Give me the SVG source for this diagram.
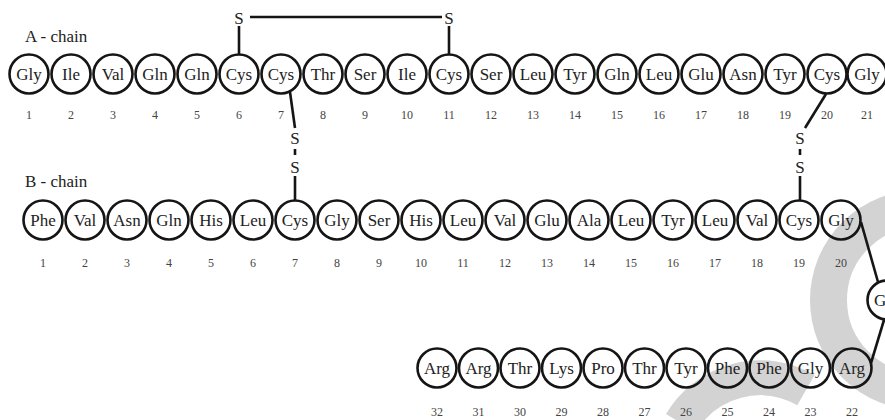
<svg xmlns="http://www.w3.org/2000/svg" width="885" height="420" viewBox="0 0 885 420">
<style>
.res circle{fill:none;stroke:#151515;stroke-width:2.6}
.res text.aa{font-family:"Liberation Serif","Times New Roman",serif;font-size:17px;fill:#222;text-anchor:middle}
.res text.n{font-family:"Liberation Serif","Times New Roman",serif;font-size:12px;fill:#444;text-anchor:middle}
.lbl{font-family:"Liberation Serif","Times New Roman",serif;font-size:17px;fill:#222}
.s{font-family:"Liberation Serif","Times New Roman",serif;font-size:17px;fill:#222;text-anchor:middle}
.bond{stroke:#151515;stroke-width:2.6;fill:none}
.wm{fill:none;stroke:#d3d3d3}
</style>
<rect width="885" height="420" fill="#ffffff"/>
<g id="watermark">
<circle class="wm" cx="920" cy="300" r="91.5" stroke-width="37"/>
<path class="wm" d="M 681 423 A 92 92 0 0 1 806 390" stroke-width="35"/>
</g>
<text class="lbl" x="25" y="42">A - chain</text>
<text class="lbl" x="25" y="187">B - chain</text>
<g id="connectors">
<line class="bond" x1="250" y1="17" x2="442" y2="17"/>
<line class="bond" x1="239" y1="26" x2="239" y2="54"/>
<line class="bond" x1="449" y1="26" x2="449" y2="54"/>
<line class="bond" x1="290" y1="92" x2="295" y2="128"/>
<line class="bond" x1="295" y1="149" x2="295" y2="155"/>
<line class="bond" x1="295" y1="176" x2="295" y2="200"/>
<line class="bond" x1="826" y1="94" x2="805" y2="128"/>
<line class="bond" x1="800" y1="149" x2="800" y2="155"/>
<line class="bond" x1="800" y1="176" x2="800" y2="200"/>
<line class="bond" x1="861" y1="222" x2="878" y2="282"/>
<line class="bond" x1="884" y1="320" x2="871" y2="363"/>
</g>
<g id="sulfur">
<text class="s" x="239" y="24">S</text>
<text class="s" x="449" y="24">S</text>
<text class="s" x="295" y="144">S</text>
<text class="s" x="295" y="173">S</text>
<text class="s" x="800" y="144">S</text>
<text class="s" x="800" y="173">S</text>
</g>
<g id="a-chain" class="res">
<g id="a1"><circle cx="29" cy="74" r="19.5"/><text class="aa" x="29" y="80">Gly</text><text class="n" x="29" y="119">1</text></g>
<g id="a2"><circle cx="71" cy="74" r="19.5"/><text class="aa" x="71" y="80">Ile</text><text class="n" x="71" y="119">2</text></g>
<g id="a3"><circle cx="113" cy="74" r="19.5"/><text class="aa" x="113" y="80">Val</text><text class="n" x="113" y="119">3</text></g>
<g id="a4"><circle cx="155" cy="74" r="19.5"/><text class="aa" x="155" y="80">Gln</text><text class="n" x="155" y="119">4</text></g>
<g id="a5"><circle cx="197" cy="74" r="19.5"/><text class="aa" x="197" y="80">Gln</text><text class="n" x="197" y="119">5</text></g>
<g id="a6"><circle cx="239" cy="74" r="19.5"/><text class="aa" x="239" y="80">Cys</text><text class="n" x="239" y="119">6</text></g>
<g id="a7"><circle cx="281" cy="74" r="19.5"/><text class="aa" x="281" y="80">Cys</text><text class="n" x="281" y="119">7</text></g>
<g id="a8"><circle cx="323" cy="74" r="19.5"/><text class="aa" x="323" y="80">Thr</text><text class="n" x="323" y="119">8</text></g>
<g id="a9"><circle cx="365" cy="74" r="19.5"/><text class="aa" x="365" y="80">Ser</text><text class="n" x="365" y="119">9</text></g>
<g id="a10"><circle cx="407" cy="74" r="19.5"/><text class="aa" x="407" y="80">Ile</text><text class="n" x="407" y="119">10</text></g>
<g id="a11"><circle cx="449" cy="74" r="19.5"/><text class="aa" x="449" y="80">Cys</text><text class="n" x="449" y="119">11</text></g>
<g id="a12"><circle cx="491" cy="74" r="19.5"/><text class="aa" x="491" y="80">Ser</text><text class="n" x="491" y="119">12</text></g>
<g id="a13"><circle cx="533" cy="74" r="19.5"/><text class="aa" x="533" y="80">Leu</text><text class="n" x="533" y="119">13</text></g>
<g id="a14"><circle cx="575" cy="74" r="19.5"/><text class="aa" x="575" y="80">Tyr</text><text class="n" x="575" y="119">14</text></g>
<g id="a15"><circle cx="617" cy="74" r="19.5"/><text class="aa" x="617" y="80">Gln</text><text class="n" x="617" y="119">15</text></g>
<g id="a16"><circle cx="659" cy="74" r="19.5"/><text class="aa" x="659" y="80">Leu</text><text class="n" x="659" y="119">16</text></g>
<g id="a17"><circle cx="701" cy="74" r="19.5"/><text class="aa" x="701" y="80">Glu</text><text class="n" x="701" y="119">17</text></g>
<g id="a18"><circle cx="743" cy="74" r="19.5"/><text class="aa" x="743" y="80">Asn</text><text class="n" x="743" y="119">18</text></g>
<g id="a19"><circle cx="785" cy="74" r="19.5"/><text class="aa" x="785" y="80">Tyr</text><text class="n" x="785" y="119">19</text></g>
<g id="a20"><circle cx="827" cy="74" r="19.5"/><text class="aa" x="827" y="80">Cys</text><text class="n" x="827" y="119">20</text></g>
<g id="a21"><circle cx="867" cy="74" r="19.5"/><text class="aa" x="867" y="80">Gly</text><text class="n" x="867" y="119">21</text></g>
</g>
<g id="b-chain" class="res">
<g id="b1"><circle cx="43" cy="220" r="19.5"/><text class="aa" x="43" y="226">Phe</text><text class="n" x="43" y="267">1</text></g>
<g id="b2"><circle cx="85" cy="220" r="19.5"/><text class="aa" x="85" y="226">Val</text><text class="n" x="85" y="267">2</text></g>
<g id="b3"><circle cx="127" cy="220" r="19.5"/><text class="aa" x="127" y="226">Asn</text><text class="n" x="127" y="267">3</text></g>
<g id="b4"><circle cx="169" cy="220" r="19.5"/><text class="aa" x="169" y="226">Gln</text><text class="n" x="169" y="267">4</text></g>
<g id="b5"><circle cx="211" cy="220" r="19.5"/><text class="aa" x="211" y="226">His</text><text class="n" x="211" y="267">5</text></g>
<g id="b6"><circle cx="253" cy="220" r="19.5"/><text class="aa" x="253" y="226">Leu</text><text class="n" x="253" y="267">6</text></g>
<g id="b7"><circle cx="295" cy="220" r="19.5"/><text class="aa" x="295" y="226">Cys</text><text class="n" x="295" y="267">7</text></g>
<g id="b8"><circle cx="337" cy="220" r="19.5"/><text class="aa" x="337" y="226">Gly</text><text class="n" x="337" y="267">8</text></g>
<g id="b9"><circle cx="379" cy="220" r="19.5"/><text class="aa" x="379" y="226">Ser</text><text class="n" x="379" y="267">9</text></g>
<g id="b10"><circle cx="421" cy="220" r="19.5"/><text class="aa" x="421" y="226">His</text><text class="n" x="421" y="267">10</text></g>
<g id="b11"><circle cx="463" cy="220" r="19.5"/><text class="aa" x="463" y="226">Leu</text><text class="n" x="463" y="267">11</text></g>
<g id="b12"><circle cx="505" cy="220" r="19.5"/><text class="aa" x="505" y="226">Val</text><text class="n" x="505" y="267">12</text></g>
<g id="b13"><circle cx="547" cy="220" r="19.5"/><text class="aa" x="547" y="226">Glu</text><text class="n" x="547" y="267">13</text></g>
<g id="b14"><circle cx="589" cy="220" r="19.5"/><text class="aa" x="589" y="226">Ala</text><text class="n" x="589" y="267">14</text></g>
<g id="b15"><circle cx="631" cy="220" r="19.5"/><text class="aa" x="631" y="226">Leu</text><text class="n" x="631" y="267">15</text></g>
<g id="b16"><circle cx="673" cy="220" r="19.5"/><text class="aa" x="673" y="226">Tyr</text><text class="n" x="673" y="267">16</text></g>
<g id="b17"><circle cx="715" cy="220" r="19.5"/><text class="aa" x="715" y="226">Leu</text><text class="n" x="715" y="267">17</text></g>
<g id="b18"><circle cx="757" cy="220" r="19.5"/><text class="aa" x="757" y="226">Val</text><text class="n" x="757" y="267">18</text></g>
<g id="b19"><circle cx="799" cy="220" r="19.5"/><text class="aa" x="799" y="226">Cys</text><text class="n" x="799" y="267">19</text></g>
<g id="b20"><circle cx="841" cy="220" r="19.5"/><text class="aa" x="841" y="226">Gly</text><text class="n" x="841" y="267">20</text></g>
<g id="b21"><circle cx="887" cy="300" r="19.5"/><text class="aa" x="874" y="306" style="text-anchor:start">G</text></g>
<g id="b22"><circle cx="852" cy="368" r="19.5"/><text class="aa" x="852" y="374">Arg</text><text class="n" x="852" y="416">22</text></g>
<g id="b23"><circle cx="810.5" cy="368" r="19.5"/><text class="aa" x="810.5" y="374">Gly</text><text class="n" x="810.5" y="416">23</text></g>
<g id="b24"><circle cx="769" cy="368" r="19.5"/><text class="aa" x="769" y="374">Phe</text><text class="n" x="769" y="416">24</text></g>
<g id="b25"><circle cx="727.5" cy="368" r="19.5"/><text class="aa" x="727.5" y="374">Phe</text><text class="n" x="727.5" y="416">25</text></g>
<g id="b26"><circle cx="686" cy="368" r="19.5"/><text class="aa" x="686" y="374">Tyr</text><text class="n" x="686" y="416">26</text></g>
<g id="b27"><circle cx="644.5" cy="368" r="19.5"/><text class="aa" x="644.5" y="374">Thr</text><text class="n" x="644.5" y="416">27</text></g>
<g id="b28"><circle cx="603" cy="368" r="19.5"/><text class="aa" x="603" y="374">Pro</text><text class="n" x="603" y="416">28</text></g>
<g id="b29"><circle cx="561.5" cy="368" r="19.5"/><text class="aa" x="561.5" y="374">Lys</text><text class="n" x="561.5" y="416">29</text></g>
<g id="b30"><circle cx="520" cy="368" r="19.5"/><text class="aa" x="520" y="374">Thr</text><text class="n" x="520" y="416">30</text></g>
<g id="b31"><circle cx="478.5" cy="368" r="19.5"/><text class="aa" x="478.5" y="374">Arg</text><text class="n" x="478.5" y="416">31</text></g>
<g id="b32"><circle cx="437" cy="368" r="19.5"/><text class="aa" x="437" y="374">Arg</text><text class="n" x="437" y="416">32</text></g>
</g>
</svg>
